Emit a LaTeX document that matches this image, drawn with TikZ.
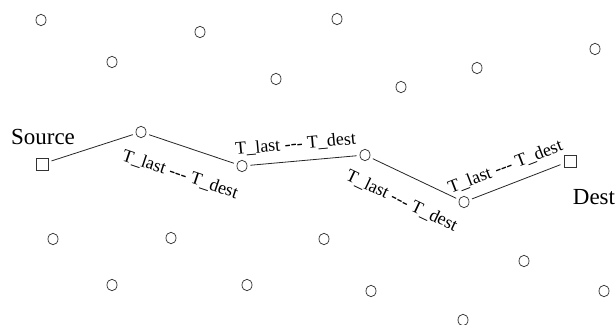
\documentclass[tikz,border=0pt]{standalone}
\usepackage{fontspec}
\setmainfont{Liberation Serif}
\usetikzlibrary{shapes.geometric}
\begin{document}
\begin{tikzpicture}[x=1pt,y=-1pt,
  hostnode/.style={ellipse,draw=black!75,line width=0.8pt,inner sep=0pt,minimum width=10pt,minimum height=11.5pt},
  endnode/.style={rectangle,draw=black!80,line width=0.8pt,inner sep=0pt,minimum size=12pt},
  pathnode/.style={outer sep=3.5pt},
  link/.style={draw=black!85,line width=0.8pt},
  lbl/.style={font=\fontsize{18}{20}\selectfont,sloped,inner sep=0pt},
  bigtxt/.style={font=\fontsize{23}{25}\selectfont,inner sep=0pt}]
\useasboundingbox (0,0) rectangle (615,324);
% scattered nodes
\foreach \n/\px/\py in {t1/41/20, t2/200/32, t3/337/19, t4/112/62, t5/276/79, t6/401/87, t7/477/68, t8/595/49,
  b1/53/239, b2/171/238, b3/324/239, b4/112/285, b5/247/285, b6/371/291, b7/524/261, b8/604/291, b9/463/320}
  \node[hostnode] (\n) at (\px,\py) {};
% route
\node[endnode,pathnode] (src) at (42,164) {};
\node[hostnode,pathnode] (r1) at (141,132) {};
\node[hostnode,pathnode] (r2) at (242,166) {};
\node[hostnode,pathnode] (r3) at (365,155) {};
\node[hostnode,pathnode] (r4) at (464,202) {};
\node[endnode,pathnode] (dst) at (570,161) {};
\node[bigtxt] (srclbl) at (43,137) {Source};
\node[bigtxt] (dstlbl) at (594,197) {Dest};
\draw[link] (src) -- (r1);
\draw[link] (r1) -- node[lbl,below=20pt,pos=0.47] {T\_last -{}-{}- T\_dest} (r2);
\draw[link] (r2) -- node[lbl,above=9pt,pos=0.44] {T\_last -{}-{}- T\_dest} (r3);
\draw[link] (r3) -- node[lbl,below=18pt,pos=0.48] {T\_last -{}-{}- T\_dest} (r4);
\draw[link] (r4) -- node[lbl,above=10pt,pos=0.45] {T\_last -{}-{}- T\_dest} (dst);
\end{tikzpicture}
\end{document}
